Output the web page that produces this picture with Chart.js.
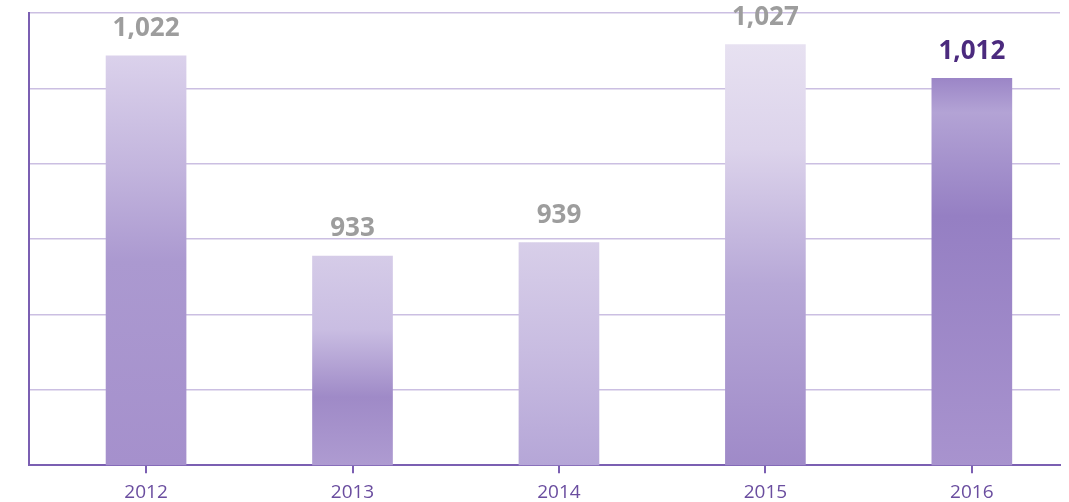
<!DOCTYPE html>
<html>
<head>
<meta charset="utf-8">
<script src="https://cdn.jsdelivr.net/npm/chart.js@4.4.1/dist/chart.umd.min.js"></script>
<style>
    html, body { margin: 0; padding: 0; background: #ffffff; }
    #wrap { width: 1069px; height: 502px; }
</style>
</head>
<body>
<div id="wrap"><canvas id="yearChart" width="1069" height="502"></canvas></div>
<script>
// Chart data
const years = ['2012', '2013', '2014', '2015', '2016'];
const values = [1022, 933, 939, 1027, 1012];

// Value axis range (axis is not zero based in the original)
const yMin = 840;
const yMax = 1041;
const yStep = 33.5;

// Vertical shading of each bar, stops relative to the plot area
const barShades = [
    [[0.08, '#dcd3ec'], [0.35, '#c2b4dd'], [0.55, '#ab99d0'], [1, '#a590cc']],
    [[0.5, '#d8cfe9'], [0.7, '#c9bde2'], [0.85, '#9f8ac7'], [1, '#ae9bd1']],
    [[0.5, '#d8cfe9'], [0.75, '#c8bce1'], [1, '#b5a6d7']],
    [[0.07, '#e7e1f1'], [0.3, '#dcd3eb'], [0.6, '#b7a8d7'], [1, '#9f8ac8']],
    [[0.14, '#9a84c6'], [0.22, '#b3a3d5'], [0.45, '#957fc3'], [1, '#a893ce']]
];

const purpleAxis = '#7b5fb2';
const purpleGrid = '#cbbfe2';

function barFill(context) {
    const chart = context.chart;
    const area = chart.chartArea;
    if (!area) return '#b3a3d5';
    const g = chart.ctx.createLinearGradient(0, area.top, 0, area.bottom);
    barShades[context.dataIndex].forEach(s => g.addColorStop(s[0], s[1]));
    return g;
}

// Value labels above the bars
const barLabels = {
    id: 'barLabels',
    afterDatasetsDraw(chart) {
        const ctx = chart.ctx;
        const meta = chart.getDatasetMeta(0);
        ctx.save();
        ctx.font = 'bold 26px "Open Sans", sans-serif';
        ctx.textAlign = 'center';
        ctx.textBaseline = 'middle';
        meta.data.forEach((bar, i) => {
            ctx.fillStyle = i === values.length - 1 ? '#4b2a7e' : '#9d9d9d';
            ctx.fillText(values[i].toLocaleString('en-US'), bar.x, bar.y - 27);
        });
        ctx.restore();
    }
};

document.addEventListener('DOMContentLoaded', function () {
    const canvas = document.getElementById('yearChart');
    new Chart(canvas, {
        type: 'bar',
        data: {
            datasets: [{
                data: years.map((y, i) => ({ x: Number(y), y: values[i] })),
                backgroundColor: barFill,
                borderWidth: 0,
                barThickness: 80
            }]
        },
        options: {
            responsive: false,
            animation: false,
            layout: {
                padding: { left: 29, right: 9, top: 13, bottom: -10 }
            },
            plugins: {
                legend: { display: false },
                tooltip: { enabled: false }
            },
            scales: {
                x: {
                    type: 'linear',
                    offset: false,
                    min: 2011.433,
                    max: 2016.427,
                    border: { color: purpleAxis, width: 2 },
                    grid: {
                        offset: false,
                        drawOnChartArea: false,
                        drawTicks: true,
                        tickLength: 8,
                        color: purpleAxis,
                        lineWidth: 2
                    },
                    afterBuildTicks: scale => {
                        scale.ticks = years.map(y => ({ value: Number(y) }));
                    },
                    ticks: {
                        padding: 8,
                        color: '#6a4d9f',
                        font: { family: '"Open Sans", sans-serif', size: 19 },
                        callback: v => String(v)
                    }
                },
                y: {
                    z: 1,
                    min: yMin,
                    max: yMax,
                    afterBuildTicks: scale => {
                        const t = [];
                        for (let v = yMin; v <= yMax + 0.01; v += yStep) t.push({ value: v });
                        scale.ticks = t;
                    },
                    border: { color: purpleAxis, width: 2 },
                    grid: {
                        drawTicks: false,
                        color: ctx => ctx.index === 0 ? purpleAxis : purpleGrid,
                        lineWidth: ctx => ctx.index === 0 ? 2 : 1.5
                    },
                    ticks: { display: false }
                }
            }
        },
        plugins: [barLabels]
    });
});
</script>
</body>
</html>
